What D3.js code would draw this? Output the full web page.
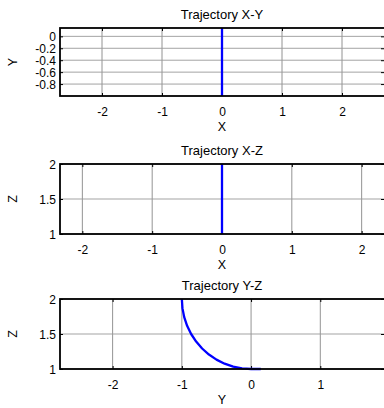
<!DOCTYPE html>
<html>
<head>
<meta charset="utf-8">
<script src="https://cdn.jsdelivr.net/npm/d3@7"></script>
<style>
  html, body { margin: 0; padding: 0; background: #fff; }
  svg { display: block; }
  text { font-family: "Liberation Sans", Arial, sans-serif; fill: #000; }
</style>
</head>
<body>
<svg id="chart" width="384" height="408"></svg>
<script>
// Trajectory samples (x, y, z)
const trajX = [0, 0, 0, 0, 0, 0, 0, 0, 0, 0, 0, 0, 0, 0];
const trajY = [-1, -0.9914, -0.9659, -0.9239, -0.866, -0.7934, -0.7071, -0.6088, -0.5, -0.3827, -0.2588, -0.1305, 0, 0.14];
const trajZ = [2, 1.8695, 1.7412, 1.6173, 1.5, 1.3912, 1.2929, 1.2067, 1.134, 1.0761, 1.0341, 1.0086, 1, 1];

// Tick values for each panel
const xyXTicks = [-2, -1, 0, 1, 2];
const xyYTicks = [0, -0.2, -0.4, -0.6, -0.8];
const xzXTicks = [-2, -1, 0, 1, 2];
const xzZTicks = [1, 1.5, 2];
const yzYTicks = [-2, -1, 0, 1];
const yzZTicks = [1, 1.5, 2];

const svg = d3.select("#chart");

const panels = [
  { title: "Trajectory X-Y", xLabel: "X", yLabel: "Y",
    h: trajX, v: trajY, xDomain: [-2.7, 2.7], yDomain: [-1, 0.14],
    xTicks: xyXTicks, yTicks: xyYTicks,
    top: 28, bottom: 96 },
  { title: "Trajectory X-Z", xLabel: "X", yLabel: "Z",
    h: trajX, v: trajZ, xDomain: [-2.32, 2.32], yDomain: [1, 2],
    xTicks: xzXTicks, yTicks: xzZTicks,
    top: 164, bottom: 234 },
  { title: "Trajectory Y-Z", xLabel: "Y", yLabel: "Z",
    h: trajY, v: trajZ, xDomain: [-2.76, 1.92], yDomain: [1, 2],
    xTicks: yzYTicks, yTicks: yzZTicks,
    top: 299, bottom: 369 }
];

const left = 60, right = 384;
const fmt = d => String(d);
const tickFont = 12, titleFont = 13, labelFont = 12.5;

panels.forEach(p => {
  const x = d3.scaleLinear().domain(p.xDomain).range([left, right]);
  const y = d3.scaleLinear().domain(p.yDomain).range([p.bottom, p.top]);
  const g = svg.append("g");

  // grid
  g.append("g").selectAll("line").data(p.xTicks).join("line")
    .attr("x1", d => x(d)).attr("x2", d => x(d))
    .attr("y1", p.top).attr("y2", p.bottom)
    .attr("stroke", "#777").attr("stroke-width", 0.8);
  g.append("g").selectAll("line").data(p.yTicks).join("line")
    .attr("x1", left).attr("x2", right)
    .attr("y1", d => y(d)).attr("y2", d => y(d))
    .attr("stroke", "#999").attr("stroke-width", 0.9);

  // inward ticks on all four sides
  const bottomAx = g.append("g").attr("transform", `translate(0,${p.bottom})`)
    .call(d3.axisBottom(x).tickValues(p.xTicks).tickFormat(fmt).tickSize(-3).tickPadding(0));
  g.append("g").attr("transform", `translate(0,${p.top})`)
    .call(d3.axisTop(x).tickValues(p.xTicks).tickFormat("").tickSize(-3));
  const leftAx = g.append("g").attr("transform", `translate(${left},0)`)
    .call(d3.axisLeft(y).tickValues(p.yTicks).tickFormat(fmt).tickSize(-3).tickPadding(3));
  g.append("g").attr("transform", `translate(${right},0)`)
    .call(d3.axisRight(y).tickValues(p.yTicks).tickFormat("").tickSize(-3));

  g.selectAll(".domain").remove();
  g.selectAll(".tick line").attr("stroke", "#000").attr("stroke-width", 1);

  bottomAx.selectAll("text")
    .attr("y", 20).attr("dy", null)
    .attr("font-size", tickFont).attr("font-family", "Liberation Sans, Arial, sans-serif");
  leftAx.selectAll("text")
    .attr("x", -4).attr("dy", "0.36em")
    .attr("font-size", tickFont).attr("font-family", "Liberation Sans, Arial, sans-serif");

  // trajectory
  const pts = p.h.map((d, i) => [d, p.v[i]]);
  g.append("path").datum(pts)
    .attr("fill", "none").attr("stroke", "#0000ff").attr("stroke-width", 2.3)
    .attr("stroke-linejoin", "round")
    .attr("d", d3.line().x(d => x(d[0])).y(d => y(d[1])));

  // frame
  g.append("rect")
    .attr("x", left).attr("y", p.top)
    .attr("width", right - left + 2).attr("height", p.bottom - p.top)
    .attr("fill", "none").attr("stroke", "#000").attr("stroke-width", 1.8);

  // title and axis labels
  const cx = (left + right) / 2;
  g.append("text").attr("x", cx).attr("y", p.top - 9.5)
    .attr("text-anchor", "middle").attr("font-size", titleFont).text(p.title);
  g.append("text").attr("x", cx).attr("y", p.bottom + 34.5)
    .attr("text-anchor", "middle").attr("font-size", labelFont).text(p.xLabel);
  const ly = (p.top + p.bottom) / 2;
  g.append("text")
    .attr("transform", `translate(17,${ly}) rotate(-90)`)
    .attr("text-anchor", "middle").attr("font-size", labelFont).text(p.yLabel);
});
</script>
</body>
</html>
